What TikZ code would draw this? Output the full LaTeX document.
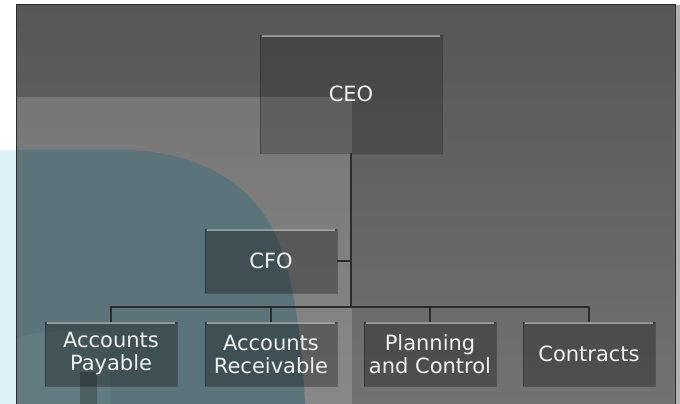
\documentclass[tikz,border=0pt]{standalone}
\usepackage{fontspec}
\setmainfont{DejaVu Sans}
\definecolor{bgtop}{HTML}{565656}
\definecolor{bgbot}{HTML}{727272}
\definecolor{cyanlt}{HTML}{DCF0F6}
\definecolor{tealbg}{HTML}{5A7479}
\definecolor{linec}{HTML}{2C2C2C}
\definecolor{txt}{HTML}{F0F0F0}
\tikzset{
  orgbox/.style={fill=black, fill opacity=0.3, text opacity=1, text=txt,
    draw=black, draw opacity=0.25, line width=0.8pt,
    minimum width=132pt, minimum height=64pt, inner sep=0pt, align=center,
    font=\fontsize{21}{23}\selectfont},
  conn/.style={draw=linec, line width=1.3pt},
  hl/.style={draw=white, draw opacity=0.45, line width=2.2pt}
}
\begin{document}
\begin{tikzpicture}[x=1pt,y=-1pt]
\useasboundingbox (0,0) rectangle (680,404);
\fill[white] (0,0) rectangle (680,404);
\fill[cyanlt] (0,150) rectangle (16,404);
\fill[gray!60] (675,5) rectangle (680,404);
\shade[top color=bgtop, bottom color=bgbot] (16,5) rectangle (675,404);
\fill[white, opacity=0.16] (16,97) rectangle (352,404);
\fill[tealbg] (16,150) -- (120,150) .. controls (200,150) and (255,185) .. (278,240)
  .. controls (295,285) and (302,340) .. (305,404) -- (16,404) -- cycle;
\fill[white, opacity=0.05] (16,338) .. controls (40,330) and (75,328) .. (110,334) -- (110,404) -- (16,404) -- cycle;
\fill[black, opacity=0.22] (80,372) rectangle (97,404);
\draw[linec, line width=1pt] (16,404) -- (16,5) -- (675,5) -- (675,404);

\node[orgbox, fill opacity=0.2, minimum width=182pt, minimum height=118pt] (ceo) at (351,94) {CEO};
\node[orgbox] (cfo) at (271,261) {CFO};
\node[orgbox] (pay) at (111,354) {Accounts\\Payable};
\node[orgbox] (rec) at (271,354) {Accounts\\Receivable};
\node[orgbox] (pla) at (430,354) {Planning\\and Control};
\node[orgbox] (con) at (589,354) {Contracts};
\foreach \n in {ceo,cfo,pay,rec,pla,con}{
  \draw[hl] ([xshift=2pt,yshift=-1.5pt]\n.north west) -- ([xshift=-2pt,yshift=-1.5pt]\n.north east);
}
\coordinate (bus) at (351,307);
\draw[conn] (ceo.south) -- (ceo.south |- bus);
\draw[conn] (cfo.east) -- (cfo.east -| bus);
\draw[conn] (pay.north) |- (bus) -| (con.north);
\draw[conn] (rec.north) -- (rec.north |- bus);
\draw[conn] (pla.north) -- (pla.north |- bus);
\end{tikzpicture}
\end{document}
